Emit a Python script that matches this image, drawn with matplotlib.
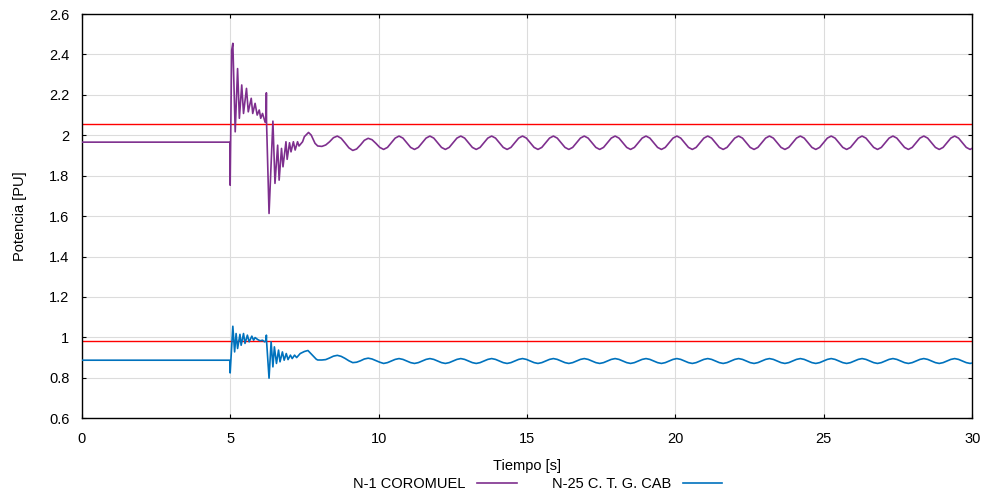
import numpy as np
import matplotlib.pyplot as plt

plt.rcParams['font.family'] = ['Liberation Sans', 'DejaVu Sans']
plt.rcParams['font.size'] = 10.5

# --- N-1 COROMUEL: pre-fault level and transient after the events at 5 s and 6.2 s
t_coromuel = [0.00, 4.99, 5.00, 5.05, 5.09, 5.17, 5.25, 5.31, 5.39, 5.45, 5.55,
              5.61, 5.71, 5.76, 5.84, 5.91, 5.98, 6.03, 6.09, 6.18, 6.21, 6.22,
              6.225, 6.31, 6.44, 6.51, 6.60, 6.65, 6.73, 6.78, 6.88, 6.92, 7.00,
              7.05, 7.13, 7.19, 7.27, 7.32, 7.44, 7.50, 7.64, 7.73, 7.86, 7.95]
p_coromuel = [1.966, 1.966, 1.753, 2.420, 2.455, 2.017, 2.330, 2.084, 2.249, 2.108, 2.232,
              2.116, 2.183, 2.108, 2.158, 2.100, 2.125, 2.084, 2.108, 2.064, 2.067, 2.210,
              2.070, 1.613, 2.070, 1.762, 1.951, 1.778, 1.935, 1.844, 1.968, 1.881, 1.963,
              1.918, 1.968, 1.927, 1.968, 1.947, 1.968, 1.993, 2.014, 2.001, 1.960, 1.947]

# --- N-25 C. T. G. CAB
t_cab = [0.00, 4.99, 5.00, 5.09, 5.15, 5.20, 5.25, 5.33, 5.37, 5.45, 5.50,
         5.58, 5.64, 5.73, 5.79, 5.84, 5.93, 6.01, 6.09, 6.16, 6.21, 6.22,
         6.225, 6.31, 6.38, 6.44, 6.49, 6.56, 6.63, 6.68, 6.76, 6.82, 6.89,
         6.95, 7.03, 7.09, 7.17, 7.24, 7.36, 7.50, 7.62, 7.75, 7.90, 7.95]
p_cab = [0.887, 0.887, 0.824, 1.055, 0.928, 1.019, 0.945, 1.015, 0.961, 1.019, 0.970,
         1.011, 0.978, 1.006, 0.986, 0.999, 0.989, 0.983, 0.986, 0.978, 0.983, 1.011,
         0.985, 0.798, 0.978, 0.854, 0.953, 0.871, 0.937, 0.879, 0.928, 0.887, 0.920,
         0.890, 0.912, 0.895, 0.912, 0.900, 0.920, 0.930, 0.935, 0.915, 0.892, 0.888]

# --- sustained oscillation, sampled every 0.13 s from 8.09 s (8 samples per cycle)
t_osc_start = 8.09
t_osc_step = 0.13
osc_coromuel = [
    1.945, 1.952, 1.968, 1.988, 1.996, 1.985, 1.962, 1.938,
    1.925, 1.932, 1.952, 1.975, 1.985, 1.978, 1.960, 1.940,
    1.930, 1.940, 1.963, 1.986, 1.996, 1.986, 1.963, 1.940,
    1.930, 1.940, 1.963, 1.986, 1.996, 1.986, 1.963, 1.940,
    1.930, 1.940, 1.963, 1.986, 1.996, 1.986, 1.963, 1.940,
    1.930, 1.940, 1.963, 1.986, 1.996, 1.986, 1.963, 1.940,
    1.930, 1.940, 1.963, 1.986, 1.996, 1.986, 1.963, 1.940,
    1.930, 1.940, 1.963, 1.986, 1.996, 1.986, 1.963, 1.940,
    1.930, 1.940, 1.963, 1.986, 1.996, 1.986, 1.963, 1.940,
    1.930, 1.940, 1.963, 1.986, 1.996, 1.986, 1.963, 1.940,
    1.930, 1.940, 1.963, 1.986, 1.996, 1.986, 1.963, 1.940,
    1.930, 1.940, 1.963, 1.986, 1.996, 1.986, 1.963, 1.940,
    1.930, 1.940, 1.963, 1.986, 1.996, 1.986, 1.963, 1.940,
    1.930, 1.940, 1.963, 1.986, 1.996, 1.986, 1.963, 1.940,
    1.930, 1.940, 1.963, 1.986, 1.996, 1.986, 1.963, 1.940,
    1.930, 1.940, 1.963, 1.986, 1.996, 1.986, 1.963, 1.940,
    1.930, 1.940, 1.963, 1.986, 1.996, 1.986, 1.963, 1.940,
    1.930, 1.940, 1.963, 1.986, 1.996, 1.986, 1.963, 1.940,
    1.930, 1.940, 1.963, 1.986, 1.996, 1.986, 1.963, 1.940,
    1.930, 1.940, 1.963, 1.986, 1.996, 1.986, 1.963, 1.940,
    1.930, 1.940, 1.963, 1.986, 1.996, 1.986, 1.963, 1.940,
    1.930, 1.940,
]
osc_cab = [
    0.888, 0.890, 0.898, 0.907, 0.911, 0.906, 0.896, 0.884,
    0.875, 0.877, 0.884, 0.893, 0.897, 0.893, 0.885, 0.877,
    0.871, 0.875, 0.883, 0.891, 0.895, 0.891, 0.883, 0.875,
    0.871, 0.875, 0.883, 0.891, 0.895, 0.891, 0.883, 0.875,
    0.871, 0.875, 0.883, 0.891, 0.895, 0.891, 0.883, 0.875,
    0.871, 0.875, 0.883, 0.891, 0.895, 0.891, 0.883, 0.875,
    0.871, 0.875, 0.883, 0.891, 0.895, 0.891, 0.883, 0.875,
    0.871, 0.875, 0.883, 0.891, 0.895, 0.891, 0.883, 0.875,
    0.871, 0.875, 0.883, 0.891, 0.895, 0.891, 0.883, 0.875,
    0.871, 0.875, 0.883, 0.891, 0.895, 0.891, 0.883, 0.875,
    0.871, 0.875, 0.883, 0.891, 0.895, 0.891, 0.883, 0.875,
    0.871, 0.875, 0.883, 0.891, 0.895, 0.891, 0.883, 0.875,
    0.871, 0.875, 0.883, 0.891, 0.895, 0.891, 0.883, 0.875,
    0.871, 0.875, 0.883, 0.891, 0.895, 0.891, 0.883, 0.875,
    0.871, 0.875, 0.883, 0.891, 0.895, 0.891, 0.883, 0.875,
    0.871, 0.875, 0.883, 0.891, 0.895, 0.891, 0.883, 0.875,
    0.871, 0.875, 0.883, 0.891, 0.895, 0.891, 0.883, 0.875,
    0.871, 0.875, 0.883, 0.891, 0.895, 0.891, 0.883, 0.875,
    0.871, 0.875, 0.883, 0.891, 0.895, 0.891, 0.883, 0.875,
    0.871, 0.875, 0.883, 0.891, 0.895, 0.891, 0.883, 0.875,
    0.871, 0.875, 0.883, 0.891, 0.895, 0.891, 0.883, 0.875,
    0.871, 0.875,
]

# limits
lim_coromuel = 2.055
lim_cab = 0.984

labels = ['N-1 COROMUEL', 'N-25 C. T. G. CAB']
colors = ['#7E2F8E', '#0072BD']

t_osc = t_osc_start + t_osc_step * np.arange(len(osc_coromuel))
x1 = np.concatenate([t_coromuel, t_osc])
y1 = np.concatenate([p_coromuel, osc_coromuel])
x2 = np.concatenate([t_cab, t_osc])
y2 = np.concatenate([p_cab, osc_cab])

fig = plt.figure(figsize=(9.85, 4.92), dpi=100)
ax = fig.add_axes([0.083, 0.150, 0.904, 0.8215])

ax.plot(x1, y1, color=colors[0], lw=1.2, label=labels[0], zorder=3)
ax.plot(x2, y2, color=colors[1], lw=1.2, label=labels[1], zorder=3)
ax.axhline(lim_coromuel, color='#FF0000', lw=1.0, zorder=2)
ax.axhline(lim_cab, color='#FF0000', lw=1.0, zorder=2)

ax.set_xlim(0, 30)
ax.set_ylim(0.6, 2.6)
ax.set_xticks(np.arange(0, 31, 5))
ax.set_yticks(np.arange(0.6, 2.61, 0.2))
ax.set_yticklabels(['0.6', '0.8', '1', '1.2', '1.4', '1.6', '1.8', '2', '2.2', '2.4', '2.6'])
ax.grid(True, color='#dcdcdc', lw=0.8)
ax.set_axisbelow(True)
ax.tick_params(direction='in', length=3, top=True, right=True)
ax.tick_params(axis='x', pad=10)
ax.tick_params(axis='y', pad=9)
for s in ax.spines.values():
    s.set_linewidth(1.0)

ax.set_xlabel('Tiempo [s]', labelpad=9)
ax.set_ylabel('Potencia [PU]', labelpad=16)

fig.legend(loc='lower center', bbox_to_anchor=(0.546, -0.025), ncol=2, frameon=False,
           markerfirst=False, handlelength=2.7, columnspacing=2.4, handletextpad=0.8)

fig.savefig('out.png', dpi=100)
